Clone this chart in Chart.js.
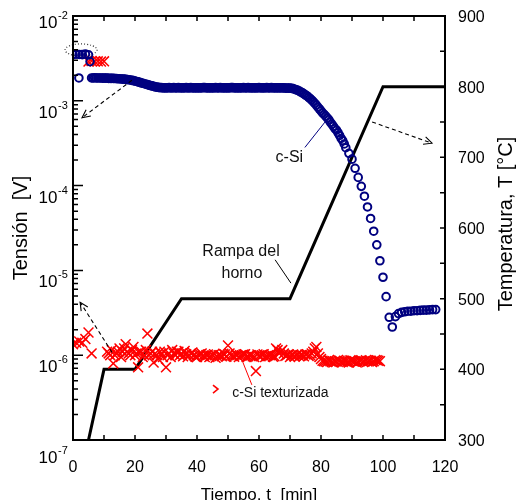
<!DOCTYPE html>
<html>
<head>
<meta charset="utf-8">
<title>Tension y rampa del horno</title>
<script src="https://cdn.jsdelivr.net/npm/chart.js@4.4.1/dist/chart.umd.min.js"></script>
<style>
  html, body { margin: 0; padding: 0; background: #fff; }
  #wrap { width: 516px; height: 500px; }
</style>
</head>
<body>
<div id="wrap"><canvas id="chart" width="516" height="500"></canvas></div>
<script>
"use strict";

// c-Si (blue circles), tiempo [min] / tension [V]
var blueTime = [0, 1, 2, 3, 4, 5, 1.9, 5.5,
    6, 7, 8, 9, 10, 11, 12, 13, 14, 15, 16, 17, 18, 19, 20,
    21, 22, 23, 24, 25, 26, 27, 28, 29, 30,
    31, 32, 33, 34, 35, 36, 37, 38, 39, 40,
    41, 42, 43, 44, 45, 46, 47, 48, 49, 50,
    51, 52, 53, 54, 55, 56, 57, 58, 59, 60,
    61, 62, 63, 64, 65, 66, 67, 68, 69, 70,
    71, 72, 73, 74, 75, 76, 77, 78, 79, 80,
    81, 82, 83, 84, 85, 86, 87, 88, 89, 90,
    91, 92, 93, 94, 95, 96, 97, 98, 99, 100,
    101, 102, 103, 104, 105, 106, 107, 108, 109, 110,
    111, 112, 113, 114, 115, 116, 117,
    // half-minute readings
    6.5, 7.5, 8.5, 9.5, 10.5, 11.5, 12.5, 13.5, 14.5, 15.5, 16.5, 17.5, 18.5, 19.5,
    20.5, 21.5, 22.5, 23.5, 24.5, 25.5, 26.5, 27.5, 28.5, 29.5,
    30.5, 31.5, 32.5, 33.5, 34.5, 35.5, 36.5, 37.5, 38.5, 39.5,
    40.5, 41.5, 42.5, 43.5, 44.5, 45.5, 46.5, 47.5, 48.5, 49.5,
    50.5, 51.5, 52.5, 53.5, 54.5, 55.5, 56.5, 57.5, 58.5, 59.5,
    60.5, 61.5, 62.5, 63.5, 64.5, 65.5, 66.5, 67.5, 68.5, 69.5,
    70.5, 71.5, 72.5, 73.5, 74.5, 75.5, 76.5, 77.5, 78.5, 79.5,
    80.5, 81.5, 82.5, 83.5, 84.5, 85.5, 86.5, 87.5];
var blueVolt = [3.50e-3, 3.55e-3, 3.52e-3, 3.50e-3, 3.55e-3, 3.48e-3, 1.86e-3, 2.90e-3,
    1.86e-3, 1.87e-3, 1.86e-3, 1.86e-3, 1.85e-3, 1.85e-3, 1.84e-3, 1.84e-3, 1.83e-3, 1.82e-3, 1.80e-3, 1.79e-3, 1.77e-3, 1.74e-3, 1.71e-3,
    1.67e-3, 1.63e-3, 1.59e-3, 1.55e-3, 1.51e-3, 1.48e-3, 1.45e-3, 1.43e-3, 1.42e-3, 1.42e-3,
    1.43e-3, 1.42e-3, 1.42e-3, 1.43e-3, 1.42e-3, 1.42e-3, 1.42e-3, 1.43e-3, 1.42e-3, 1.42e-3,
    1.42e-3, 1.43e-3, 1.42e-3, 1.42e-3, 1.42e-3, 1.43e-3, 1.42e-3, 1.42e-3, 1.42e-3, 1.42e-3,
    1.43e-3, 1.42e-3, 1.42e-3, 1.42e-3, 1.43e-3, 1.42e-3, 1.42e-3, 1.42e-3, 1.42e-3, 1.43e-3,
    1.42e-3, 1.42e-3, 1.42e-3, 1.43e-3, 1.42e-3, 1.42e-3, 1.42e-3, 1.42e-3, 1.41e-3, 1.41e-3,
    1.39e-3, 1.35e-3, 1.30e-3, 1.24e-3, 1.17e-3, 1.10e-3, 1.02e-3, 9.3e-4, 8.4e-4, 7.6e-4,
    6.9e-4, 6.3e-4, 5.6e-4, 5.0e-4, 4.5e-4, 3.9e-4, 3.4e-4, 2.8e-4, 2.4e-4, 2.05e-4,
    1.6e-4, 1.25e-4, 9.8e-5, 7.5e-5, 5.6e-5, 4.1e-5, 2.9e-5, 2.0e-5, 1.3e-5, 8.3e-6,
    4.9e-6, 2.8e-6, 2.15e-6, 2.85e-6, 3.1e-6, 3.2e-6, 3.25e-6, 3.3e-6, 3.3e-6, 3.35e-6,
    3.35e-6, 3.38e-6, 3.4e-6, 3.4e-6, 3.42e-6, 3.45e-6, 3.45e-6,
    1.86e-3, 1.86e-3, 1.86e-3, 1.85e-3, 1.85e-3, 1.84e-3, 1.84e-3, 1.83e-3, 1.82e-3, 1.81e-3, 1.80e-3, 1.78e-3, 1.76e-3, 1.73e-3,
    1.69e-3, 1.65e-3, 1.61e-3, 1.57e-3, 1.53e-3, 1.50e-3, 1.46e-3, 1.44e-3, 1.43e-3, 1.42e-3,
    1.42e-3, 1.42e-3, 1.43e-3, 1.42e-3, 1.42e-3, 1.42e-3, 1.43e-3, 1.42e-3, 1.42e-3, 1.42e-3,
    1.42e-3, 1.42e-3, 1.43e-3, 1.42e-3, 1.42e-3, 1.42e-3, 1.42e-3, 1.43e-3, 1.42e-3, 1.42e-3,
    1.42e-3, 1.43e-3, 1.42e-3, 1.42e-3, 1.42e-3, 1.42e-3, 1.43e-3, 1.42e-3, 1.42e-3, 1.42e-3,
    1.42e-3, 1.42e-3, 1.43e-3, 1.42e-3, 1.42e-3, 1.42e-3, 1.42e-3, 1.42e-3, 1.41e-3, 1.41e-3,
    1.40e-3, 1.37e-3, 1.33e-3, 1.27e-3, 1.21e-3, 1.14e-3, 1.06e-3, 9.8e-4, 8.9e-4, 8.0e-4,
    7.2e-4, 6.6e-4, 6.0e-4, 5.3e-4, 4.7e-4, 4.2e-4, 3.6e-4, 3.1e-4];

// c-Si texturizada (red crosses)
var redTime = [5, 6, 7, 8, 9, 10,
    0, 1, 2, 3, 4, 5, 6,
    11, 12, 13, 14, 15, 16, 17, 18, 19, 20,
    21, 22, 23, 24, 25, 26, 27, 28, 29, 30,
    31, 32, 33, 34, 35, 36, 37, 38, 39, 40,
    41, 42, 43, 44, 45, 46, 47, 48, 49, 50,
    51, 52, 53, 54, 55, 56, 57, 58, 59, 60,
    61, 62, 63, 64, 65, 66, 67, 68, 69, 70,
    71, 72, 73, 74, 75, 76, 77, 78, 79, 80,
    81, 82, 83, 84, 85, 86, 87, 88, 89, 90,
    91, 92, 93, 94, 95, 96, 97, 98, 99,
    // half-minute readings
    11.5, 12.5, 13.5, 14.5, 15.5, 16.5, 17.5, 18.5, 19.5,
    20.5, 21.5, 22.5, 23.5, 24.5, 25.5, 26.5, 27.5, 28.5, 29.5,
    30.5, 31.5, 32.5, 33.5, 34.5, 35.5, 36.5, 37.5, 38.5, 39.5,
    40.5, 41.5, 42.5, 43.5, 44.5, 45.5, 46.5, 47.5, 48.5, 49.5,
    50.5, 51.5, 52.5, 53.5, 54.5, 55.5, 56.5, 57.5, 58.5, 59.5,
    60.5, 61.5, 62.5, 63.5, 64.5, 65.5, 66.5, 67.5, 68.5, 69.5,
    70.5, 71.5, 72.5, 73.5, 74.5, 75.5, 76.5, 77.5, 78.5, 79.5,
    80.5, 81.5, 82.5, 83.5, 84.5, 85.5, 86.5, 87.5, 88.5, 89.5,
    90.5, 91.5, 92.5, 93.5, 94.5, 95.5, 96.5, 97.5, 98.5];
var redVolt = [2.90e-3, 2.95e-3, 2.90e-3, 2.92e-3, 2.90e-3, 2.92e-3,
    1.35e-6, 1.40e-6, 1.45e-6, 1.40e-6, 1.55e-6, 1.85e-6, 1.05e-6,
    1.10e-6, 1.00e-6, 0.80e-6, 1.05e-6, 1.20e-6, 1.10e-6, 1.35e-6, 1.05e-6, 1.15e-6, 1.00e-6,
    0.72e-6, 1.10e-6, 1.00e-6, 1.80e-6, 1.05e-6, 0.82e-6, 1.00e-6, 1.10e-6, 0.95e-6, 0.72e-6,
    1.05e-6, 1.15e-6, 1.00e-6, 1.10e-6, 1.05e-6, 1.12e-6, 0.95e-6, 1.05e-6, 1.00e-6, 0.95e-6,
    1.02e-6, 0.98e-6, 1.00e-6, 0.95e-6, 1.00e-6, 0.93e-6, 1.00e-6, 0.97e-6, 1.02e-6, 1.30e-6,
    1.00e-6, 0.96e-6, 1.00e-6, 0.98e-6, 1.02e-6, 0.95e-6, 1.00e-6, 0.97e-6, 0.65e-6, 0.98e-6,
    1.00e-6, 0.95e-6, 1.00e-6, 1.02e-6, 0.97e-6, 1.15e-6, 1.10e-6, 1.05e-6, 1.00e-6, 0.95e-6,
    1.02e-6, 1.00e-6, 0.97e-6, 1.00e-6, 1.02e-6, 0.98e-6, 1.05e-6, 1.20e-6, 1.05e-6, 0.90e-6,
    0.85e-6, 0.83e-6, 0.85e-6, 0.82e-6, 0.84e-6, 0.86e-6, 0.83e-6, 0.85e-6, 0.82e-6, 0.86e-6,
    0.84e-6, 0.83e-6, 0.87e-6, 0.85e-6, 0.84e-6, 0.86e-6, 0.85e-6, 0.87e-6, 0.85e-6,
    1.05e-6, 1.15e-6, 1.00e-6, 1.10e-6, 0.95e-6, 1.20e-6, 1.10e-6, 1.00e-6, 1.25e-6,
    1.05e-6, 1.10e-6, 0.95e-6, 1.15e-6, 1.00e-6, 1.10e-6, 1.05e-6, 0.90e-6, 1.05e-6, 1.10e-6,
    1.00e-6, 0.95e-6, 1.05e-6, 1.10e-6, 1.00e-6, 0.97e-6, 1.03e-6, 1.00e-6, 1.08e-6, 0.96e-6,
    1.00e-6, 1.05e-6, 0.95e-6, 1.02e-6, 0.98e-6, 1.03e-6, 0.97e-6, 1.00e-6, 1.04e-6, 0.96e-6,
    1.05e-6, 0.98e-6, 1.02e-6, 0.95e-6, 1.00e-6, 1.03e-6, 0.97e-6, 1.00e-6, 0.95e-6, 1.02e-6,
    0.97e-6, 1.03e-6, 0.98e-6, 1.00e-6, 0.96e-6, 1.20e-6, 1.05e-6, 1.15e-6, 0.98e-6, 1.03e-6,
    1.00e-6, 0.96e-6, 1.02e-6, 1.00e-6, 0.97e-6, 1.03e-6, 1.00e-6, 1.10e-6, 1.25e-6, 0.95e-6,
    0.86e-6, 0.84e-6, 0.87e-6, 0.83e-6, 0.85e-6, 0.88e-6, 0.84e-6, 0.86e-6, 0.83e-6, 0.87e-6,
    0.85e-6, 0.82e-6, 0.86e-6, 0.84e-6, 0.87e-6, 0.85e-6, 0.83e-6, 0.88e-6, 0.86e-6];

// rampa del horno, tiempo [min] / temperatura [C]
var rampTime = [5, 10, 20, 35, 70, 100, 120];
var rampTemp = [300, 400, 400, 500, 500, 800, 800];

// tick labels
var timeTicks = [0, 20, 40, 60, 80, 100, 120];
var tempTicks = [300, 400, 500, 600, 700, 800, 900];
var voltDecades = [-2, -3, -4, -5, -6, -7];

var FONT = "'Liberation Sans', Arial, sans-serif";

function pairs(xs, ys) {
    var out = [];
    for (var i = 0; i < xs.length; i++) out.push({ x: xs[i], y: ys[i] });
    return out;
}

function arrow(ctx, x1, y1, x2, y2) {
    ctx.save();
    ctx.setLineDash([4, 3]);
    ctx.beginPath();
    ctx.moveTo(x1, y1);
    ctx.lineTo(x2, y2);
    ctx.stroke();
    ctx.setLineDash([]);
    var a = Math.atan2(y2 - y1, x2 - x1);
    ctx.beginPath();
    ctx.moveTo(x2 - 9 * Math.cos(a - 0.45), y2 - 9 * Math.sin(a - 0.45));
    ctx.lineTo(x2, y2);
    ctx.lineTo(x2 - 9 * Math.cos(a + 0.45), y2 - 9 * Math.sin(a + 0.45));
    ctx.stroke();
    ctx.restore();
}

var figurePlugin = {
    id: "figure",
    beforeDatasetsDraw: function(chart) {
        var ctx = chart.ctx;
        var X = function(t) { return chart.scales.x.getPixelForValue(t); };
        var YT = function(T) { return chart.scales.y2.getPixelForValue(T); };
        // dotted ellipse round the first points
        ctx.save();
        ctx.strokeStyle = "#333";
        ctx.lineWidth = 1.2;
        ctx.setLineDash([1, 2]);
        ctx.beginPath();
        ctx.ellipse(X(2.6), YT(852), 16, 6, 0, 0, Math.PI * 2);
        ctx.stroke();
        ctx.restore();
    },
    afterDraw: function(chart) {
        var ctx = chart.ctx;
        var xs = chart.scales.x, yv = chart.scales.y, yt = chart.scales.y2;
        var X = function(t) { return xs.getPixelForValue(t); };
        var YV = function(v) { return yv.getPixelForValue(v); };
        var YT = function(T) { return yt.getPixelForValue(T); };
        var area = chart.chartArea;

        ctx.save();
        ctx.strokeStyle = "#000";
        ctx.fillStyle = "#000";

        // annotations
        ctx.lineWidth = 1.1;
        arrow(ctx, X(19), YT(809), X(2.9), YT(756));
        arrow(ctx, X(96.5), YT(750), X(115.8), YT(720));
        arrow(ctx, X(12.6), YT(424), X(2.3), YT(495));

        ctx.lineWidth = 1;
        ctx.strokeStyle = "#000080";
        ctx.beginPath();
        ctx.moveTo(X(74.8), YT(714));
        ctx.lineTo(X(81.3), YT(750));
        ctx.stroke();

        ctx.strokeStyle = "#000";
        ctx.beginPath();
        ctx.moveTo(X(65.2), YT(555));
        ctx.lineTo(X(70.3), YT(522));
        ctx.stroke();

        ctx.strokeStyle = "#ff0000";
        ctx.beginPath();
        ctx.moveTo(X(54.8), YT(410));
        ctx.lineTo(X(57.7), YT(378));
        ctx.stroke();
        ctx.lineWidth = 1.6;
        ctx.beginPath();
        ctx.moveTo(X(45.8) - 2, YT(372) - 4);
        ctx.lineTo(X(45.8) + 3, YT(372));
        ctx.lineTo(X(45.8) - 2, YT(372) + 4);
        ctx.stroke();

        ctx.fillStyle = "#111";
        ctx.textAlign = "center";
        ctx.textBaseline = "middle";
        ctx.font = "16px " + FONT;
        ctx.fillText("c-Si", X(69.8), YT(700));
        ctx.fillText("Rampa del", X(54.2), YT(567));
        ctx.fillText("horno", X(54.5), YT(535));
        ctx.font = "14px " + FONT;
        ctx.fillText("c-Si texturizada", X(66.9), YT(366));

        // frame
        ctx.strokeStyle = "#000";
        ctx.lineWidth = 2;
        ctx.strokeRect(area.left, area.top, area.right - area.left, area.bottom - area.top);

        // inward ticks
        ctx.lineWidth = 1.5;
        ctx.beginPath();
        for (var t = 10; t < 120; t += 10) {
            ctx.moveTo(X(t), area.bottom); ctx.lineTo(X(t), area.bottom - 5);
            ctx.moveTo(X(t), area.top); ctx.lineTo(X(t), area.top + 5);
        }
        for (var T = 350; T < 900; T += 50) {
            ctx.moveTo(area.right, YT(T)); ctx.lineTo(area.right - 5, YT(T));
        }
        for (var d = -7; d <= -2; d++) {
            var yy = YV(Math.pow(10, d));
            ctx.moveTo(area.left, yy); ctx.lineTo(area.left + 10, yy);
            if (d < -2) {
                for (var k = 2; k <= 9; k++) {
                    var ym = YV(k * Math.pow(10, d));
                    ctx.moveTo(area.left, ym); ctx.lineTo(area.left + 5, ym);
                }
            }
        }
        ctx.stroke();

        // tick labels
        ctx.fillStyle = "#000";
        ctx.font = "16px " + FONT;
        ctx.textBaseline = "alphabetic";
        ctx.textAlign = "center";
        timeTicks.forEach(function(v) { ctx.fillText(String(v), X(v), 471.5); });
        ctx.textAlign = "left";
        tempTicks.forEach(function(v) { ctx.fillText(String(v), area.right + 13, YT(v) + 6); });
        voltDecades.forEach(function(d) {
            var base = YV(Math.pow(10, d)) + (d === -2 ? 12 : d === -7 ? 23 : 17);
            ctx.font = "17px " + FONT;
            ctx.textAlign = "right";
            ctx.fillText("10", 57.5, base);
            ctx.font = "11px " + FONT;
            ctx.textAlign = "left";
            ctx.fillText(String(d), 58, base - 9);
        });

        // axis titles
        ctx.font = "17px " + FONT;
        ctx.textAlign = "center";
        ctx.fillText("Tiempo, t  [min]", (area.left + area.right) / 2, 500);
        ctx.font = "20px " + FONT;
        ctx.textBaseline = "middle";
        ctx.save();
        ctx.translate(21, (area.top + area.bottom) / 2);
        ctx.rotate(-Math.PI / 2);
        ctx.fillText("Tensión  [V]", 0, 0);
        ctx.restore();
        ctx.save();
        ctx.translate(506, (area.top + area.bottom) / 2 - 4);
        ctx.rotate(-Math.PI / 2);
        ctx.fillText("Temperatura, T [°C]", 0, 0);
        ctx.restore();

        ctx.restore();
    }
};

new Chart(document.getElementById("chart"), {
    type: "scatter",
    data: {
        datasets: [{
            label: "c-Si",
            data: pairs(blueTime, blueVolt),
            yAxisID: "y",
            pointStyle: "circle",
            pointRadius: 3.8,
            pointBorderWidth: 2,
            borderColor: "#000080",
            pointBackgroundColor: "rgba(0,0,0,0)",
            showLine: false
        }, {
            label: "c-Si texturizada",
            data: pairs(redTime, redVolt),
            yAxisID: "y",
            pointStyle: "crossRot",
            pointRadius: 7,
            pointBorderWidth: 1.5,
            borderColor: "#ff0000",
            showLine: false
        }, {
            label: "Rampa del horno",
            data: pairs(rampTime, rampTemp),
            yAxisID: "y2",
            showLine: true,
            borderColor: "#000",
            borderWidth: 3,
            pointRadius: 0,
            tension: 0
        }]
    },
    options: {
        responsive: false,
        animation: false,
        devicePixelRatio: 1,
        layout: { padding: { left: 73, right: 71, top: 16, bottom: 60 } },
        scales: {
            x: { type: "linear", min: 0, max: 120, display: false },
            y: { type: "logarithmic", min: 1e-7, max: 1e-2, display: false },
            y2: { type: "linear", min: 300, max: 900, display: false }
        },
        plugins: {
            legend: { display: false },
            tooltip: { enabled: false }
        }
    },
    plugins: [figurePlugin]
});
</script>
</body>
</html>
